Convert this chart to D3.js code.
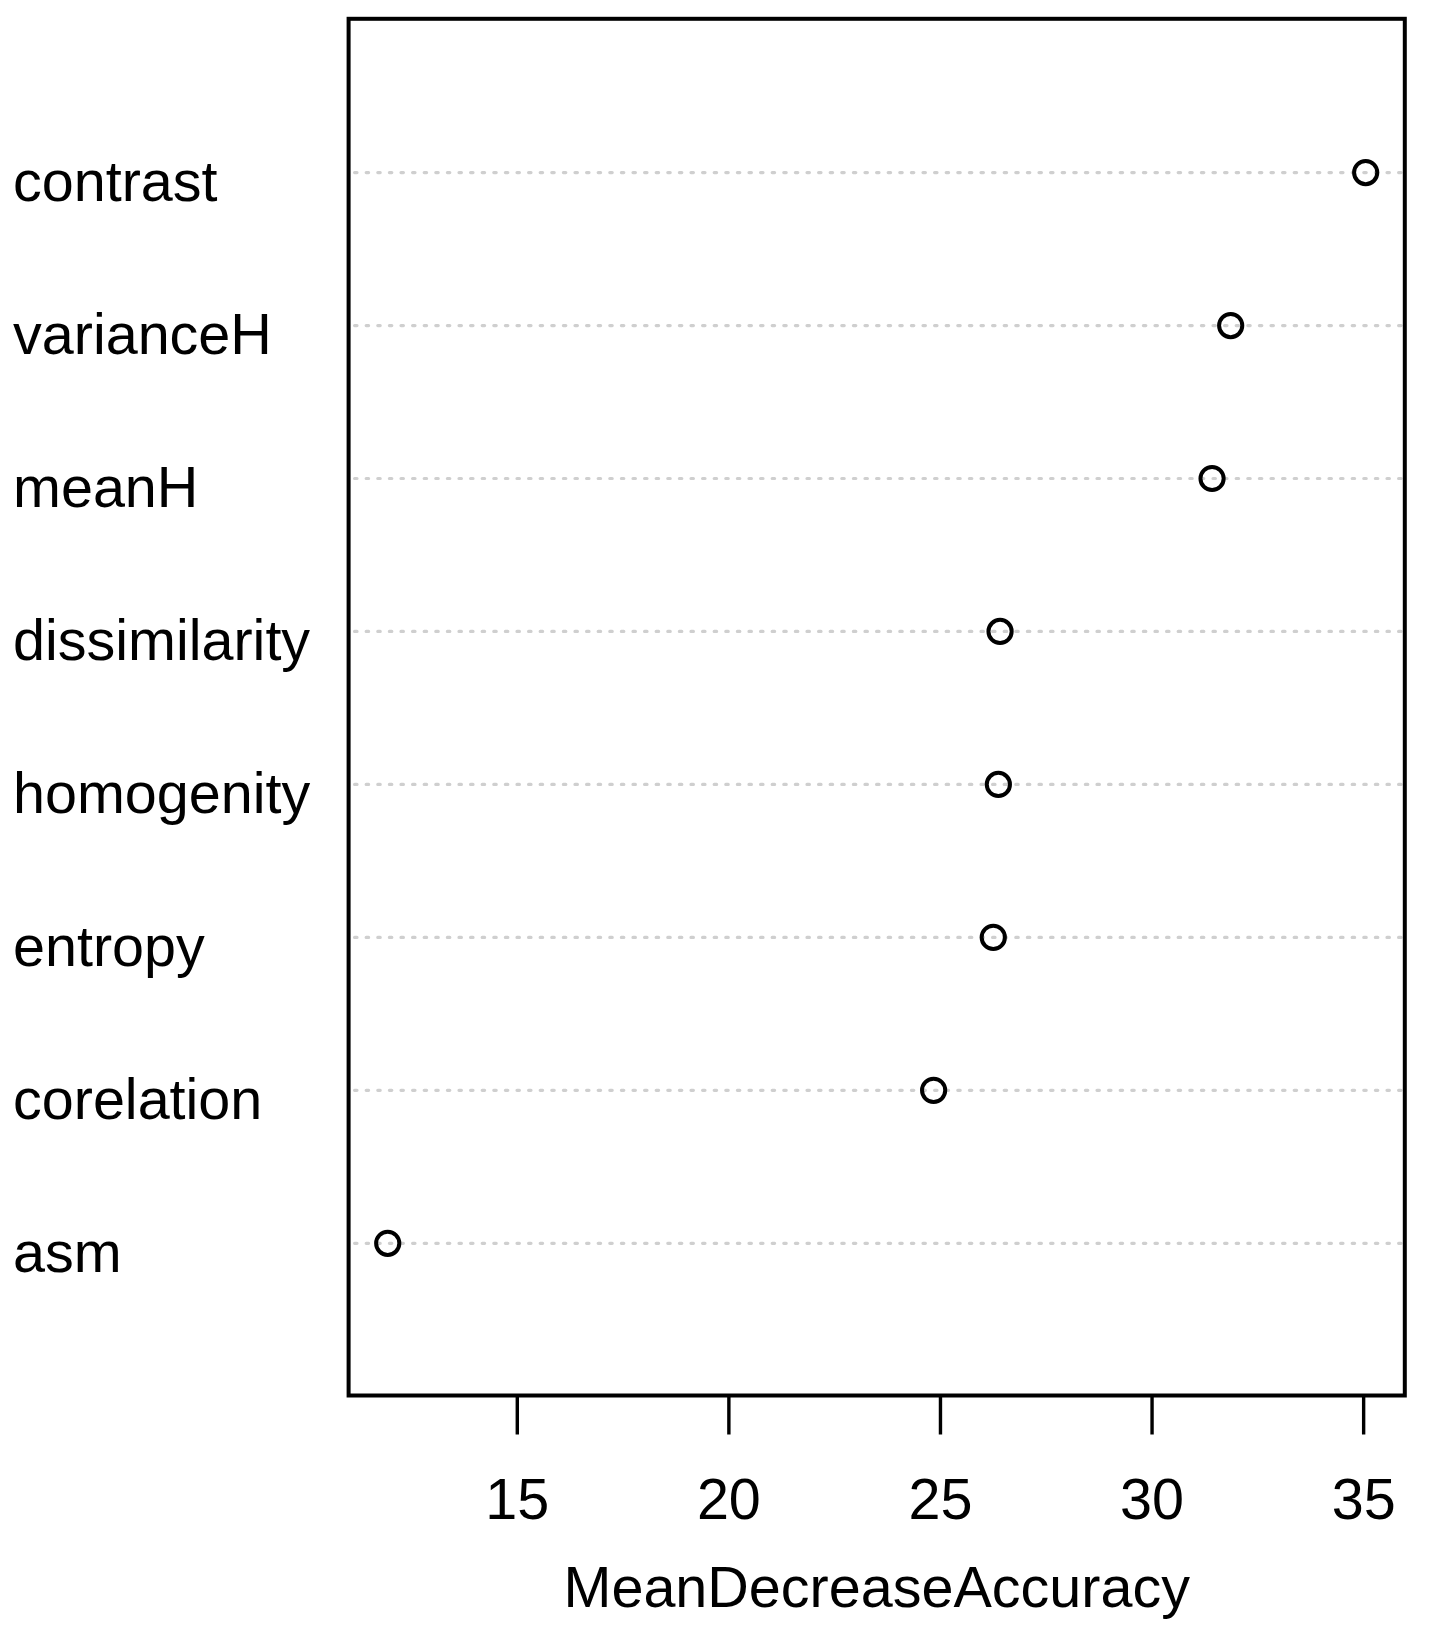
<!DOCTYPE html>
<html>
<head>
<meta charset="utf-8">
<script src="https://cdn.jsdelivr.net/npm/d3@7"></script>
<style>
  html, body { margin: 0; padding: 0; background: #fff; }
  svg { display: block; }
  text { font-family: "Liberation Sans", Arial, Helvetica, sans-serif; fill: #000; }
</style>
</head>
<body>
<svg id="chart" width="1433" height="1637"></svg>
<script>
// Data (bottom to top order as plotted by dotchart: first element at y=1)
const categories = ["asm", "corelation", "entropy", "homogenity", "dissimilarity", "meanH", "varianceH", "contrast"];
const values = [11.95, 24.85, 26.26, 26.38, 26.42, 31.43, 31.87, 35.06];
const xTicks = [15, 20, 25, 30, 35];
const xTitle = "MeanDecreaseAccuracy";

const svg = d3.select("#chart");
const box = { left: 348.6, right: 1404.8, top: 18.8, bottom: 1395.5 };

const vmin = d3.min(values), vmax = d3.max(values);
const ext = (vmax - vmin) * 0.04;
const x = d3.scaleLinear().domain([vmin - ext, vmax + ext]).range([box.left, box.right]);
const y = d3.scaleLinear().domain([0, categories.length + 1]).range([box.bottom, box.top]);

const fontSize = 57.5;

// dotted guide lines
svg.append("g").selectAll("line")
  .data(categories)
  .join("line")
  .attr("x1", box.left + 6)
  .attr("x2", box.right)
  .attr("y1", (d, i) => y(i + 1) + 0.8)
  .attr("y2", (d, i) => y(i + 1) + 0.8)
  .attr("stroke", "#cfcfcf")
  .attr("stroke-width", 3.2)
  .attr("stroke-linecap", "round")
  .attr("stroke-dasharray", "2.4,9.2");

// category labels
svg.append("g").selectAll("text")
  .data(categories)
  .join("text")
  .attr("x", 13)
  .attr("y", (d, i) => y(i + 1) + 29)
  .attr("font-size", fontSize)
  .text(d => d);

// points
svg.append("g").selectAll("circle")
  .data(values)
  .join("circle")
  .attr("cx", d => x(d))
  .attr("cy", (d, i) => y(i + 1) + 0.8)
  .attr("r", 11.6)
  .attr("fill", "none")
  .attr("stroke", "#000")
  .attr("stroke-width", 4);

// box
svg.append("rect")
  .attr("x", box.left)
  .attr("y", box.top)
  .attr("width", box.right - box.left)
  .attr("height", box.bottom - box.top)
  .attr("fill", "none")
  .attr("stroke", "#000")
  .attr("stroke-width", 4);

// x axis
const axis = d3.axisBottom(x).tickValues(xTicks).tickSize(39).tickPadding(44).tickFormat(d3.format("d"));
const gx = svg.append("g")
  .attr("transform", `translate(0,${box.bottom})`)
  .call(axis);
gx.select(".domain").remove();
gx.selectAll(".tick line").attr("stroke", "#000").attr("stroke-width", 3.4);
gx.selectAll(".tick text")
  .attr("font-size", fontSize)
  .attr("font-family", "Liberation Sans, Arial, sans-serif")
  .attr("fill", "#000");

// x title
svg.append("text")
  .attr("x", (box.left + box.right) / 2)
  .attr("y", 1607)
  .attr("text-anchor", "middle")
  .attr("font-size", fontSize)
  .text(xTitle);
</script>
</body>
</html>
